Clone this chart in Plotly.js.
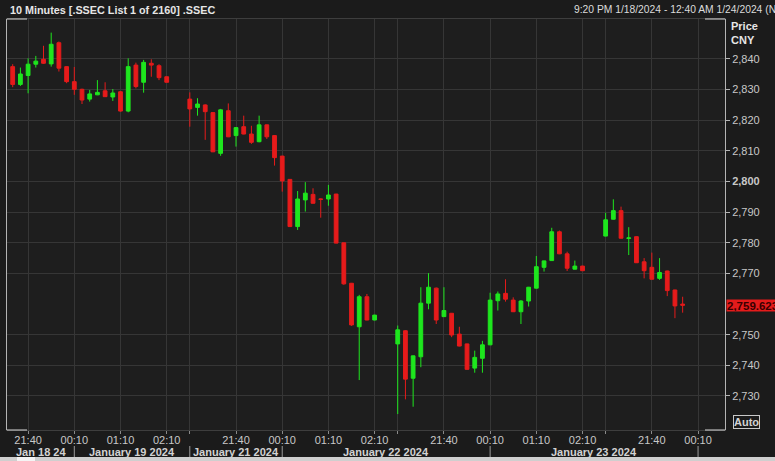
<!DOCTYPE html>
<html><head><meta charset="utf-8">
<script src="https://cdn.plot.ly/plotly-3.0.1.min.js"></script>
<style>html,body{margin:0;padding:0;background:#1b1b1b;overflow:hidden}#chart{width:775px;height:461px}</style>
</head><body><div id="chart"></div>
<script>
// ---- time structure (local time) ----
const barTimes = ['20:40','20:50','21:00','21:10','21:20','21:30','21:40','21:50','22:00','22:10','22:20','22:30',
  '00:10','00:20','00:30','00:40','00:50','01:00','01:10','01:20','01:30','01:40','01:50','02:00','02:10'];
const sessionEve   = ['01-18','01-21','01-22','01-23'];
const sessionNext  = ['01-19','01-22','01-23','01-24'];
const sessionFirst = [4, 0, 0, 0];
const sessionLast  = [24, 24, 24, 10];
const gapTimes = ['02:20','02:30'];
const axisEnd = '01-24 00:40';

const tickTimes  = ['20:40','21:40','00:10','01:10','02:10'];
const tickLabels = ['','21:40','00:10','01:10','02:10'];

const dateLabels = ['Jan 18 24','January 19 2024','January 21 2024','January 22 2024','January 23 2024'];
const dateBreaks = ['01-19 00:10','01-21 20:40','01-22 00:10','01-23 00:10','01-24 00:10'];

const yTicks = [2730,2740,2750,2770,2780,2790,2800,2810,2820,2830,2840];
const lastPrice = 2759.623;

// ---- OHLC (10 minute bars) ----
const open = [
2837.5,2831.7,2834.6,2838.3,2839.9,2838.4,2845.3,2837.5,2832.6,2830.1,2826.9,2828.3,2829.6,2827.6,2829.3,2823.0,2838.0,2832.4,2838.6,2837.8,2834.2,
2826.9,2824.2,2825.0,2822.5,2809.2,2823.1,2815.0,2817.9,2815.5,2813.0,2818.5,2815.0,2808.3,2800.7,2785.3,2794.0,2795.8,2794.3,2794.3,2795.9,2780.0,2766.8,2752.6,2762.4,2754.8,
2747.0,2751.3,2735.8,2742.8,2760.3,2765.2,2755.9,2757.0,2750.2,2747.0,2739.1,2742.3,2746.7,2761.1,2763.5,2761.3,2757.5,2761.0,2765.2,2772.0,2774.2,2783.6,2776.4,2771.4,2772.4,
2782.2,2787.7,2790.5,2781.4,2782.0,2773.8,2772.0,2768.4,2770.8,2764.6,2760.0];
const high = [
2838.3,2837.2,2840.2,2841.0,2844.3,2848.6,2845.7,2837.6,2837.4,2830.3,2829.9,2833.1,2832.4,2830.2,2829.5,2840.2,2838.8,2839.7,2839.9,2838.3,2834.3,
2829.1,2827.2,2825.2,2822.6,2823.7,2825.5,2817.8,2821.5,2818.2,2821.5,2818.6,2815.1,2808.4,2800.8,2796.9,2799.8,2797.8,2794.5,2798.9,2796.0,2780.1,2766.9,2763.0,2763.3,2756.5,
2753.0,2751.5,2743.2,2765.5,2770.1,2765.4,2765.5,2757.1,2752.6,2747.1,2744.8,2748.0,2763.7,2764.1,2768.1,2762.2,2761.3,2765.6,2775.7,2774.2,2784.9,2784.0,2777.1,2774.2,2772.5,
2789.8,2794.2,2791.8,2785.1,2782.1,2775.0,2776.8,2775.0,2770.9,2764.7,2762.4];
const low = [
2830.8,2831.2,2828.8,2837.2,2838.4,2837.5,2835.9,2832.1,2828.3,2825.3,2826.1,2828.2,2827.6,2826.3,2822.8,2822.6,2830.4,2829.0,2834.2,2833.1,2832.3,
2817.9,2821.5,2813.6,2809.6,2808.4,2814.5,2811.4,2815.4,2812.3,2812.8,2813.9,2805.2,2796.7,2785.2,2784.2,2790.2,2792.8,2788.2,2792.1,2779.8,2766.3,2752.9,2735.2,2754.7,2754.7,
2724.1,2728.9,2726.5,2739.4,2758.3,2753.5,2755.8,2749.2,2746.2,2738.5,2737.6,2737.6,2746.6,2757.9,2760.8,2757.4,2753.5,2759.2,2765.1,2770.6,2774.1,2776.3,2770.8,2771.3,2770.8,
2782.1,2787.6,2781.4,2776.0,2773.4,2768.4,2768.0,2767.9,2762.6,2755.4,2757.2];
const close = [
2831.7,2835.1,2838.3,2839.3,2838.6,2844.8,2837.0,2832.6,2830.1,2826.6,2828.6,2829.1,2827.7,2828.9,2823.0,2837.5,2831.0,2838.9,2838.0,2833.9,2832.4,
2823.7,2825.3,2822.8,2809.7,2823.4,2814.6,2817.6,2815.5,2812.8,2818.5,2814.6,2807.8,2800.2,2785.3,2794.3,2796.2,2792.9,2794.2,2795.6,2779.9,2766.6,2753.2,2762.4,2754.8,2756.4,
2751.6,2735.5,2743.1,2760.3,2765.5,2754.8,2757.9,2749.9,2746.3,2738.7,2742.6,2746.7,2761.3,2763.3,2761.6,2757.5,2761.0,2765.5,2772.2,2774.1,2783.6,2776.4,2771.7,2772.4,2770.9,
2787.5,2790.5,2781.5,2781.6,2773.5,2770.9,2768.1,2770.3,2764.4,2759.4,2759.62];

// ---- build categories ----
function lbl(s, b){ return (b < 12 ? sessionEve[s] : sessionNext[s]) + ' ' + barTimes[b]; }
const cats = [], xs = [];
for (let s = 0; s < sessionEve.length; s++) {
  for (let b = sessionFirst[s]; b < barTimes.length; b++) {
    cats.push(lbl(s, b));
    if (b <= sessionLast[s]) xs.push(lbl(s, b));
  }
  if (s < sessionEve.length - 1) gapTimes.forEach(t => cats.push(sessionNext[s] + ' ' + t));
}
const tickvals = [], ticktext = [];
for (let s = 0; s < sessionEve.length; s++) {
  tickTimes.forEach((t, i) => {
    const c = lbl(s, barTimes.indexOf(t));
    if (cats.includes(c)) { tickvals.push(c); ticktext.push(tickLabels[i]); }
  });
}
const xStart = -0.74, xEnd = cats.indexOf(axisEnd) + 0.5;

const fmt = v => v.toLocaleString('en-US');
const yText = yTicks.map(v => v === 2800 ? '<b>' + fmt(v) + '</b>' : fmt(v));

const FONT = 'Liberation Sans, Arial, sans-serif';
const W = 775, H = 461, ML = 7, MR = 50, MT = 19, MB = 31;
const PW = W - ML - MR, PH = H - MT - MB;
const px = x => (x - ML) / PW;       // page px -> paper x
const py = y => (H - MB - y) / PH;   // page px -> paper y

const shapes = [];
const annotations = [];
// date row separators and labels
const bIdx = dateBreaks.map(d => cats.indexOf(d));
bIdx.forEach(i => shapes.push({type:'line', xref:'x', yref:'paper', x0:i, x1:i, y0:py(446), y1:py(457),
  line:{color:'#9a9a9a', width:1}}));
dateLabels.forEach((t, k) => {
  const a = k === 0 ? xStart : bIdx[k-1];
  const b = bIdx[k];
  annotations.push({xref:'x', yref:'paper', x:(a+b)/2, y:py(452), text:'<b>'+t+'</b>', showarrow:false,
    font:{family:FONT, size:11, color:'#d2d2d2'}, xanchor:'center', yanchor:'middle'});
});
// corner brackets
const cs = 20/PW;
[[0,cs,1],[0,cs,0],[1-cs,1,1],[1-cs,1,0]].forEach(([a,b,y]) => shapes.push({type:'line', xref:'paper', yref:'paper',
  x0:a, x1:b, y0:y, y1:y, line:{color:'#d8d8d8', width:1}}));
// bottom scrollbar
shapes.push({type:'rect', xref:'paper', yref:'paper', x0:px(0), x1:px(W), y0:py(457), y1:py(461), fillcolor:'#cfcfcf', line:{width:0}, layer:'above'});
shapes.push({type:'rect', xref:'paper', yref:'paper', x0:px(17), x1:px(35), y0:py(457), y1:py(461), fillcolor:'#f4f4f4', line:{width:0}, layer:'above'});

// header texts
annotations.push({xref:'paper', yref:'paper', x:px(8), y:py(10), xanchor:'left', yanchor:'middle', showarrow:false,
  text:'<b>10 Minutes [.SSEC List 1 of 2160] .SSEC</b>', font:{family:FONT, size:10.8, color:'#e6e6e6'}});
annotations.push({xref:'paper', yref:'paper', x:px(572), y:py(10), xanchor:'left', yanchor:'middle', showarrow:false,
  text:'9:20 PM 1/18/2024 - 12:40 AM 1/24/2024 (N', font:{family:FONT, size:10.3, color:'#dcdcdc'}});
annotations.push({xref:'paper', yref:'paper', x:px(729), y:py(26), xanchor:'left', yanchor:'middle', showarrow:false,
  text:'<b>Price</b>', font:{family:FONT, size:11, color:'#e6e6e6'}});
annotations.push({xref:'paper', yref:'paper', x:px(729), y:py(40), xanchor:'left', yanchor:'middle', showarrow:false,
  text:'<b>CNY</b>', font:{family:FONT, size:11, color:'#e6e6e6'}});
annotations.push({xref:'paper', yref:'paper', x:px(733), y:py(422), xanchor:'left', yanchor:'middle', showarrow:false,
  text:'<b>Auto</b>', font:{family:FONT, size:11, color:'#d2d2d2'}, bordercolor:'#c8c8c8', borderwidth:1, borderpad:0, bgcolor:'#1b1b1b'});
// last price tag
annotations.push({xref:'paper', yref:'y', x:1, xshift:1, y:lastPrice, xanchor:'left', yanchor:'middle', showarrow:false,
  text:'<b>'+lastPrice.toLocaleString('en-US',{minimumFractionDigits:3})+'</b>', align:'left',
  font:{family:FONT, size:11.5, color:'#3a0000'}, bgcolor:'#e41b1b', borderpad:0, width:60, height:11});

const trace = {
  type:'candlestick', x:xs, open:open, high:high, low:low, close:close,
  increasing:{line:{color:'#1ee61e', width:1}, fillcolor:'#1ee61e'},
  decreasing:{line:{color:'#e61b1b', width:1}, fillcolor:'#e61b1b'},
  whiskerwidth:0, showlegend:false, hoverinfo:'skip'
};

const layout = {
  width:W, height:H, margin:{l:ML, r:MR, t:MT, b:MB},
  paper_bgcolor:'#1b1b1b', plot_bgcolor:'#1e1e1e',
  font:{family:FONT, size:11, color:'#c8c8c8'},
  showlegend:false,
  xaxis:{type:'category', categoryorder:'array', categoryarray:cats, range:[xStart, xEnd],
    rangeslider:{visible:false}, tickmode:'array', tickvals:tickvals, ticktext:ticktext,
    ticks:'outside', ticklen:3, tickcolor:'#8a8a8a', ticklabelstandoff:-3,
    showgrid:true, gridcolor:'#363636', gridwidth:1,
    showline:true, linecolor:'#3e3e3e', mirror:true, zeroline:false,
    tickfont:{family:FONT, size:11, color:'#c8c8c8'}, fixedrange:true},
  yaxis:{side:'right', range:[2718.9, 2853.05], tickmode:'array', tickvals:yTicks, ticktext:yText,
    ticks:'outside', ticklen:4, tickcolor:'#b4b4b4', showgrid:true, gridcolor:'#363636', gridwidth:1,
    showline:true, linecolor:'#b4b4b4', mirror:true, zeroline:false,
    tickfont:{family:FONT, size:11, color:'#c8c8c8'}, fixedrange:true},
  shapes:shapes, annotations:annotations
};

Plotly.newPlot('chart', [trace], layout, {displayModeBar:false, staticPlot:true});
</script>
</body></html>
